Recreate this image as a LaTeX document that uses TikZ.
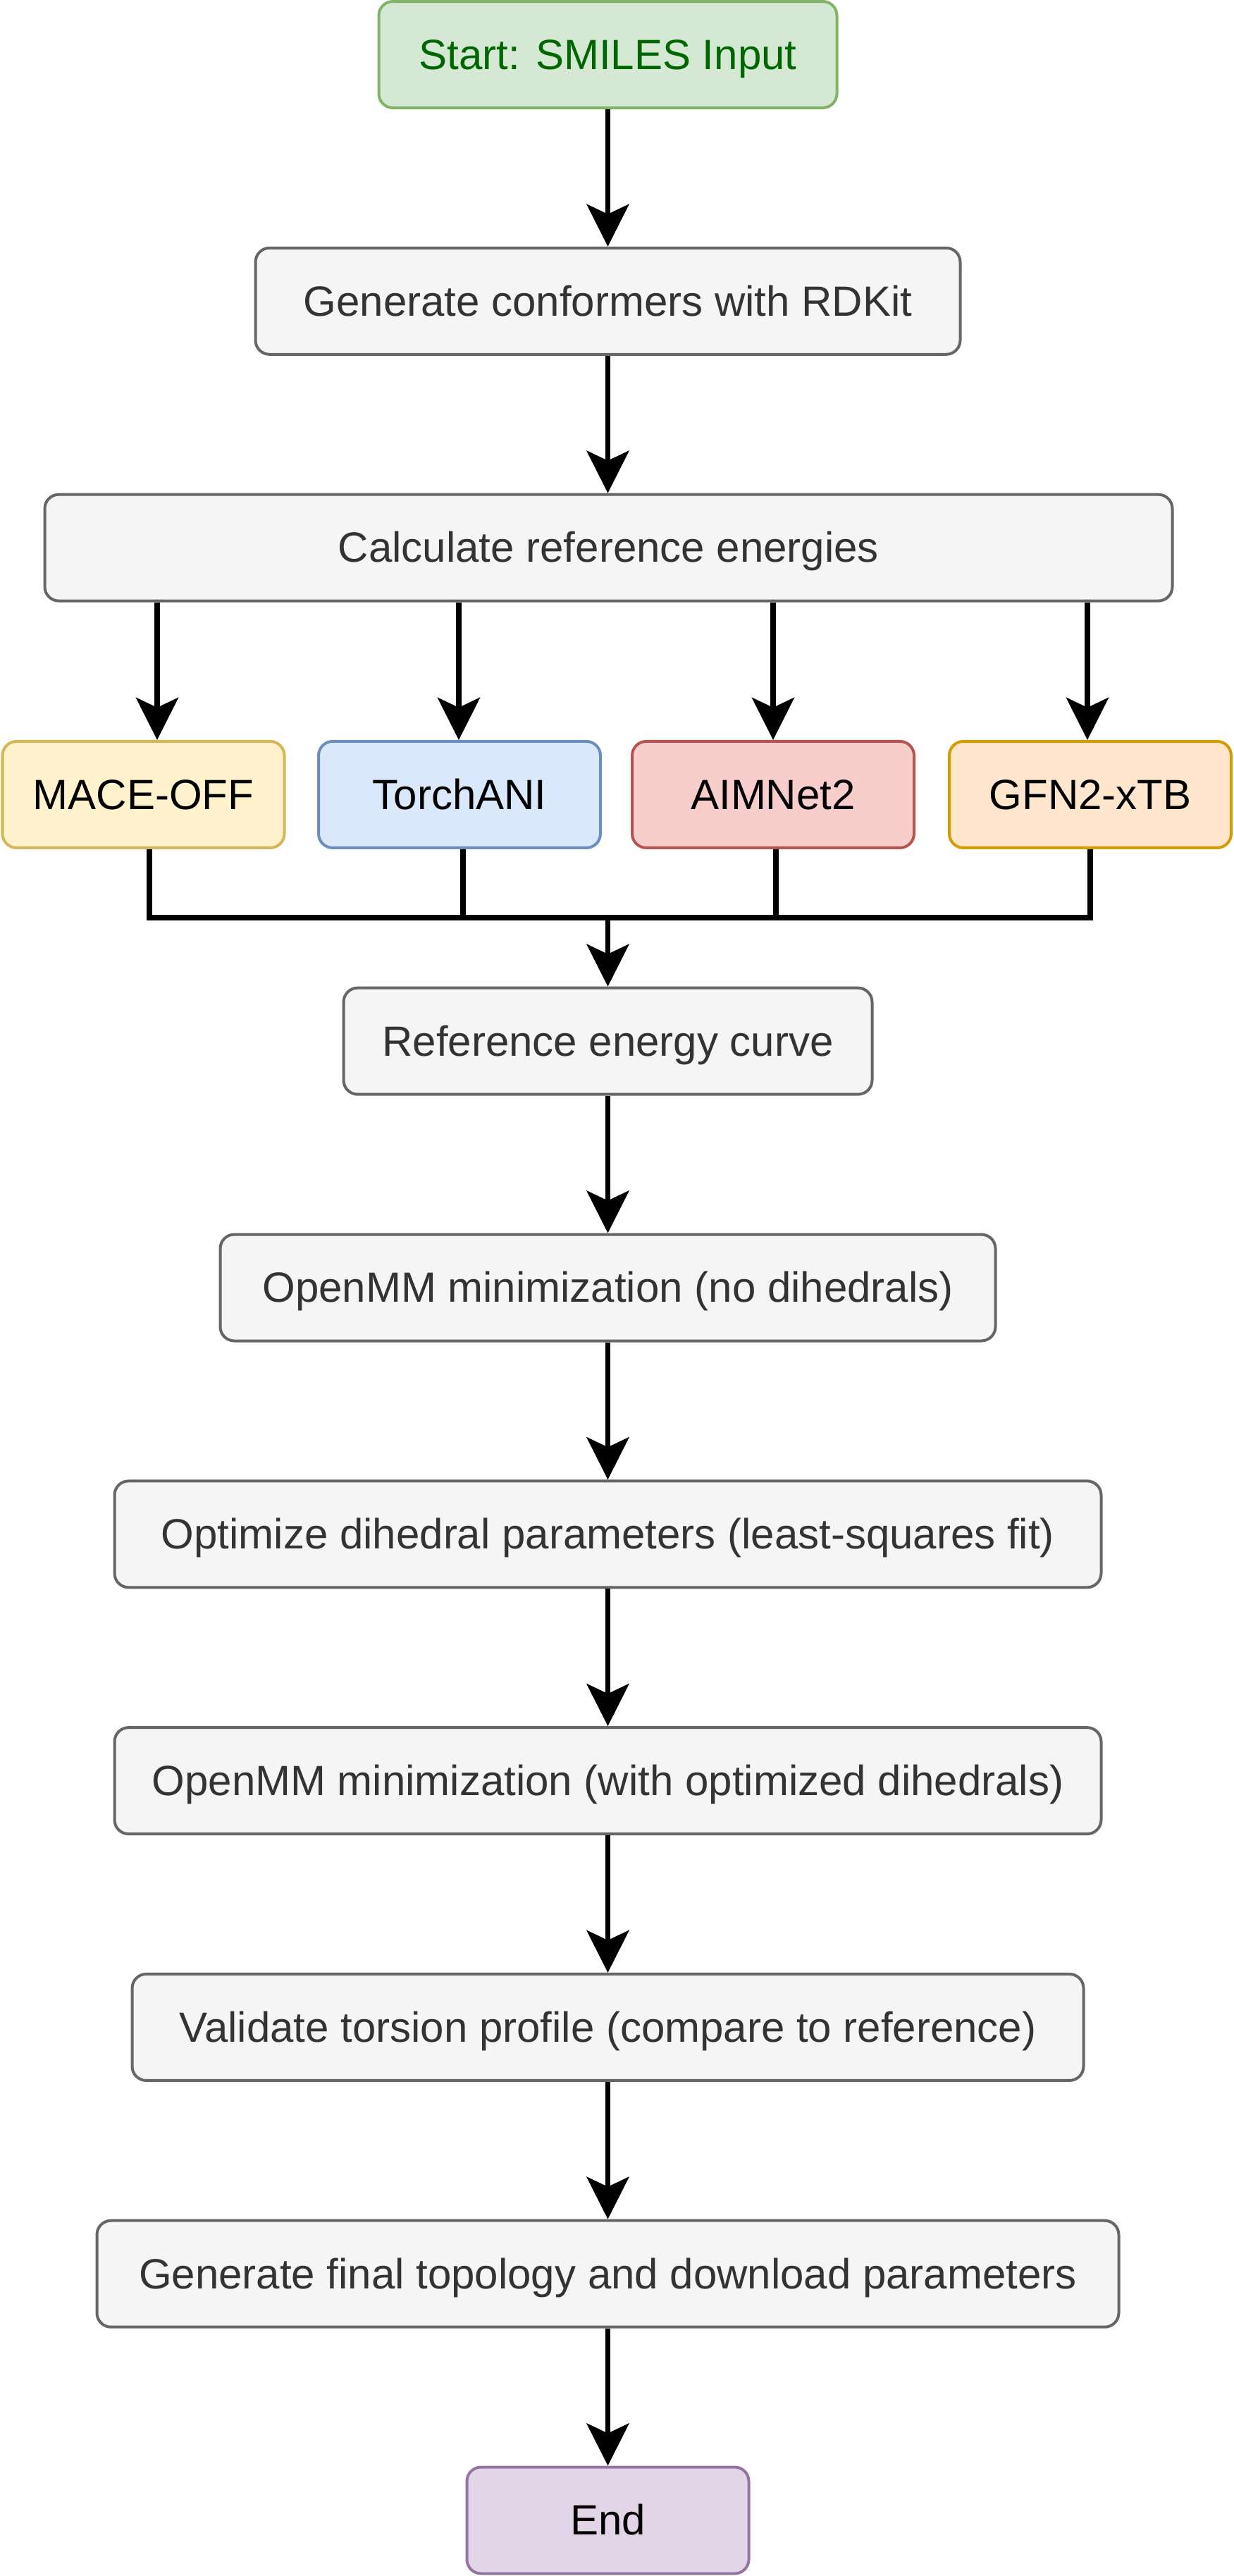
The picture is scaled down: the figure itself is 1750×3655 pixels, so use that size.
\documentclass[tikz,border=0pt]{standalone}
\usepackage{fontspec}
\setmainfont{Liberation Sans}
\usetikzlibrary{arrows.meta,calc}
\definecolor{gfill}{HTML}{F5F5F5}
\definecolor{gdraw}{HTML}{666666}
\definecolor{gtext}{HTML}{333333}
\definecolor{sfill}{HTML}{D5E8D4}
\definecolor{sdraw}{HTML}{82B366}
\definecolor{stext}{HTML}{006600}
\definecolor{yfill}{HTML}{FFF2CC}
\definecolor{ydraw}{HTML}{D6B656}
\definecolor{bfill}{HTML}{DAE8FC}
\definecolor{bdraw}{HTML}{6C8EBF}
\definecolor{rfill}{HTML}{F8CECC}
\definecolor{rdraw}{HTML}{B85450}
\definecolor{ofill}{HTML}{FFE6CC}
\definecolor{odraw}{HTML}{D79B00}
\definecolor{pfill}{HTML}{E1D5E7}
\definecolor{pdraw}{HTML}{9673A6}
\begin{document}
\begin{tikzpicture}[x=0.25pt,y=-0.25pt,
  box/.style={draw, rounded corners=5pt, line width=1pt, minimum height=37.75pt,
    inner sep=0pt, text height=13.6pt, text depth=3.2pt, font=\fontsize{15}{18}\selectfont},
  graybox/.style={box, fill=gfill, draw=gdraw, text=gtext},
  arr/.style={line width=1.9pt, -{Stealth[length=15pt,width=15pt,inset=3.5pt]}},
  ln/.style={line width=1.9pt}]
\useasboundingbox (0,0) rectangle (1750,3655);

\node[box, fill=sfill, draw=sdraw, text=stext, minimum width=162.5pt] (start) at (862.5,77.5) {Start: SMILES Input};
\node[graybox, minimum width=250pt] (gen) at (862.5,427.3) {Generate conformers with RDKit};
\node[graybox, minimum width=400pt] (calc) at (863.5,777.1) {Calculate reference energies};

\node[box, fill=yfill, draw=ydraw, text=black, minimum width=100pt] (mace) at (203.5,1127.4) {MACE-OFF};
\node[box, fill=bfill, draw=bdraw, text=black, minimum width=100pt] (ani) at (652,1127.4) {TorchANI};
\node[box, fill=rfill, draw=rdraw, text=black, minimum width=100pt] (aim) at (1097,1127.4) {AIMNet2};
\node[box, fill=ofill, draw=odraw, text=black, minimum width=100pt] (gfn) at (1547,1127.4) {GFN2-xTB};

\node[graybox, minimum width=187.5pt] (ref) at (862.5,1477.2) {Reference energy curve};
\node[graybox, minimum width=275pt] (mm1) at (862.5,1827) {OpenMM minimization (no dihedrals)};
\node[graybox, minimum width=350pt] (opt) at (862.5,2176.8) {Optimize dihedral parameters (least-squares fit)};
\node[graybox, minimum width=350pt] (mm2) at (862.5,2526.6) {OpenMM minimization (with optimized dihedrals)};
\node[graybox, minimum width=337.5pt] (val) at (862.5,2876.4) {Validate torsion profile (compare to reference)};
\node[graybox, minimum width=362.5pt] (fin) at (862.5,3226.2) {Generate final topology and download parameters};
\node[box, fill=pfill, draw=pdraw, text=black, minimum width=100pt] (end) at (862.5,3576) {End};

\coordinate (bus) at (862.5,1302);

\draw[arr] (start) -- (gen);
\draw[arr] (gen.south) -- (gen.south |- calc.north);

\draw[arr] ($(calc.south -| mace.north)+(19.5,0)$) -- ($(mace.north)+(19.5,0)$);
\draw[arr] ($(calc.south -| ani.north)+(-1,0)$) -- ($(ani.north)+(-1,0)$);
\draw[arr] (calc.south -| aim.north) -- (aim.north);
\draw[arr] ($(calc.south -| gfn.north)+(-4,0)$) -- ($(gfn.north)+(-4,0)$);

\draw[ln] ($(mace.south)+(8.5,0)$) |- (bus);
\draw[ln] ($(ani.south)+(5,0)$) |- (bus);
\draw[ln] ($(aim.south)+(4,0)$) |- (bus);
\draw[ln] (gfn.south) |- (bus);
\draw[arr] (bus) -- (ref.north);

\draw[arr] (ref) -- (mm1);
\draw[arr] (mm1) -- (opt);
\draw[arr] (opt) -- (mm2);
\draw[arr] (mm2) -- (val);
\draw[arr] (val) -- (fin);
\draw[arr] (fin) -- (end);
\end{tikzpicture}
\end{document}
